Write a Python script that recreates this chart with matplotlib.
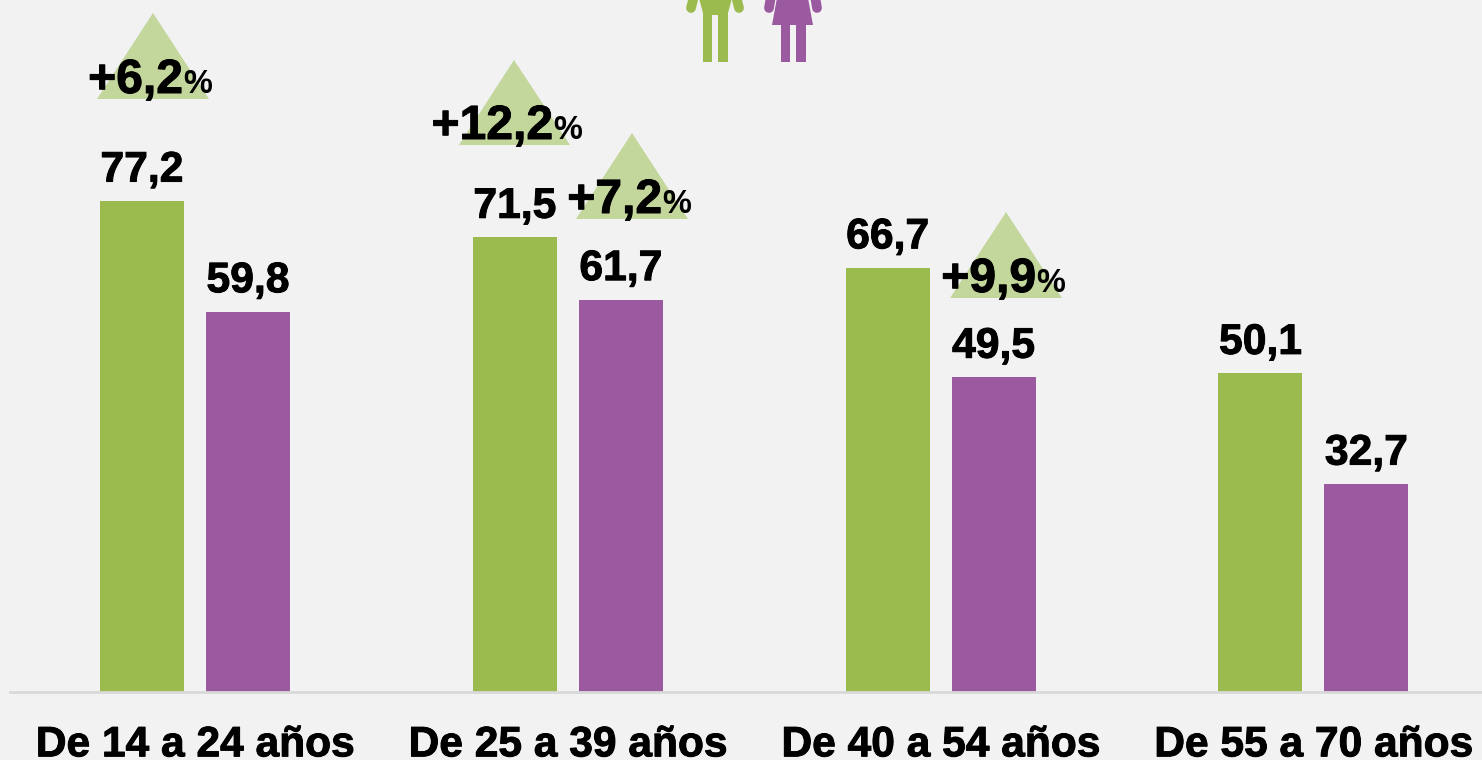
import matplotlib
matplotlib.use("Agg")
import matplotlib.pyplot as plt
import matplotlib.patheffects as pe
import numpy as np
from matplotlib.patches import Polygon

plt.rcParams["font.family"] = ["Liberation Sans", "DejaVu Sans"]

categories = ["De 14 a 24 años", "De 25 a 39 años", "De 40 a 54 años", "De 55 a 70 años"]
hombres = [77.2, 71.5, 66.7, 50.1]
mujeres = [59.8, 61.7, 49.5, 32.7]
brechas = ["+6,2", "+12,2", "+7,2", "+9,9"]

GREEN = "#9bbb4e"
PURPLE = "#9b59a0"
TRI = "#c3d69b"
BG = "#f2f2f2"

W, H = 1482, 760
BASE = 692
px_per_unit = 6.36
px_per_group = 372.8

# a thin outline, the original font is a bit heavier than Liberation bold
heavy = [pe.withStroke(linewidth=0.7, foreground="black")]

fig = plt.figure(figsize=(W / 100, H / 100), dpi=100, facecolor=BG)
ax = fig.add_axes([0, (H - BASE) / H, 1, BASE / H], facecolor=BG)
ax.set_xlim(-195 / px_per_group, (W - 195) / px_per_group)
ax.set_ylim(0, BASE / px_per_unit)

x = np.arange(len(categories))
bw = 84 / px_per_group
off = 53 / px_per_group
b1 = ax.bar(x - off, hombres, bw, color=GREEN)
b2 = ax.bar(x + off, mujeres, bw, color=PURPLE)
for bars, vals in ((b1, hombres), (b2, mujeres)):
    for r, v in zip(bars, vals):
        ax.annotate(f"{v:.1f}".replace(".", ","), (r.get_x() + r.get_width() / 2, v),
                    xytext=(0, 14), textcoords="offset points", ha="center", va="baseline",
                    fontsize=30.7, fontweight="bold", color="black", zorder=5, path_effects=heavy)

for s in ax.spines.values():
    s.set_visible(False)
ax.axhline(0, xmin=10 / W, xmax=1, color="#d9d9d9", lw=2, clip_on=False)
ax.set_yticks([])
ax.set_xticks(x)
ax.set_xticklabels(categories, fontsize=30.6, fontweight="bold", color="black", path_effects=heavy)
ax.tick_params(axis="x", length=0, pad=24)

# overlay in pixels for the triangles and the icons
ov = fig.add_axes([0, 0, 1, 1])
ov.set_xlim(0, W)
ov.set_ylim(H, 0)
ov.axis("off")
ov.patch.set_alpha(0)

tris = [(153, 13, 97, 209, 99), (514, 60, 459, 570, 145),
        (632, 133, 576, 688, 219), (1006, 212, 950, 1062, 298)]
tx = [(183, 91), (553, 137), (662, 211), (1036, 290)]
for (ax_, ay, l, r, yb), (xe, yt), s in zip(tris, tx, brechas):
    ov.add_patch(Polygon([(ax_, ay), (l, yb), (r, yb)], closed=True, fc=TRI, ec="none"))
    ov.text(xe, yt + 2, s, ha="right", va="baseline", fontsize=34.6, fontweight="bold", color="black",
            path_effects=heavy)
    ov.text(xe, yt + 2, "%", ha="left", va="baseline", fontsize=23.5, fontweight="bold", color="black")

# hombre
ov.add_patch(Polygon([(699, -2), (732, -2), (728, 13), (728, 62), (718, 62), (718, 15), (712, 15),
                      (712, 62), (703, 62), (703, 13)],
                     closed=True, fc=GREEN, ec="none"))
for xa, xb in ((691, 694), (739, 736)):
    ov.plot([xa, xb], [8, -4], color=GREEN, lw=7, solid_capstyle="round")
# mujer
ov.add_patch(Polygon([(777, -2), (808, -2), (813, 25), (806, 25), (806, 62), (796, 62), (796, 25),
                      (790, 25), (790, 62), (781, 62), (781, 25), (772, 25)],
                     closed=True, fc=PURPLE, ec="none"))
for xa, xb in ((769, 771), (817, 815)):
    ov.plot([xa, xb], [8, -4], color=PURPLE, lw=7, solid_capstyle="round")

fig.savefig("out.png", dpi=100, facecolor=BG)
